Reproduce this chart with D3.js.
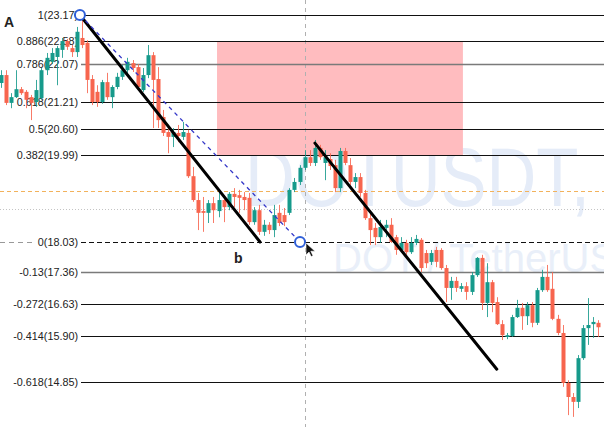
<!DOCTYPE html>
<html><head><meta charset="utf-8">
<script src="https://cdn.jsdelivr.net/npm/d3@7"></script>
<style>body{margin:0;background:#fff;overflow:hidden}svg{display:block}</style>
</head><body><svg id="c" width="604" height="427"></svg>
<script>
// candle index (bars)
const candleIndex = d3.range(119);
const opens = [21.63,21.81,21.18,21.31,21.49,21.43,21.31,21.20,21.29,21.92,22.11,22.22,22.38,22.58,22.42,22.33,22.65,22.54,21.72,21.43,
21.20,21.65,21.31,21.54,21.77,21.92,22.08,21.99,21.47,21.81,22.26,21.72,20.86,20.52,20.41,20.50,20.41,20.50,19.52,18.98,
18.73,18.69,18.91,18.73,18.98,18.82,19.12,19.09,19.05,19.03,18.48,18.75,18.26,18.42,18.30,18.69,18.64,18.69,19.21,19.39,
19.71,19.95,19.82,20.16,19.82,19.91,19.77,19.25,20.09,19.77,19.39,19.50,19.14,18.57,18.35,18.14,18.35,18.42,18.14,17.85,
18.01,17.80,18.01,18.08,17.78,17.58,17.85,17.85,17.44,16.99,17.15,16.97,17.03,16.90,17.28,17.67,16.65,17.12,16.67,16.17,
15.88,15.90,16.33,16.54,16.35,16.60,16.20,16.94,17.24,16.97,16.29,15.97,14.84,14.52,14.41,15.40,16.08,16.17,16.20];
const highs = [21.92,21.92,21.40,21.92,21.54,21.47,21.36,21.70,21.97,22.31,22.42,22.47,22.65,22.63,22.49,22.90,23.17,22.60,21.81,21.58,
21.70,21.86,21.58,21.86,22.04,22.20,22.15,22.06,21.97,22.49,22.33,21.99,21.02,20.68,20.61,20.68,20.75,20.57,19.73,19.14,
19.05,18.98,19.05,19.16,19.09,19.16,19.25,19.21,19.16,19.14,18.82,18.87,18.53,18.48,18.87,18.87,18.80,19.25,19.48,19.77,
20.11,20.11,20.34,20.23,20.11,20.04,19.89,20.16,20.16,19.93,19.59,19.59,19.21,18.75,18.46,18.53,18.53,18.57,18.19,18.14,
18.08,18.14,18.19,18.12,17.85,17.85,17.92,17.89,17.51,17.24,17.24,17.10,17.12,17.35,17.69,17.74,17.55,17.17,16.78,16.26,
15.97,16.38,16.72,16.65,16.67,16.67,16.99,17.40,17.51,17.35,16.38,16.15,14.90,14.61,15.47,16.15,16.76,16.33,16.26];
const lows = [21.52,21.13,21.06,21.29,21.36,21.06,20.79,21.09,21.25,21.81,22.06,21.58,22.20,22.38,22.22,22.22,22.42,21.40,21.13,21.09,
21.16,21.25,21.06,21.49,21.70,21.86,21.88,21.47,21.43,21.74,20.61,20.61,20.43,20.04,20.18,20.29,20.34,19.48,18.94,18.30,
18.26,18.46,18.46,18.59,18.48,18.75,18.82,18.69,18.75,18.42,18.42,18.19,18.17,18.21,18.14,18.39,18.39,18.64,19.16,19.32,
19.66,19.75,19.75,19.89,19.43,19.66,19.16,19.16,19.77,19.32,19.25,19.05,18.53,17.96,17.96,18.01,18.14,18.01,17.74,17.80,
17.74,17.76,17.96,17.35,17.44,17.51,17.46,17.40,16.67,16.72,16.90,16.90,16.72,16.83,17.24,16.49,16.33,16.44,16.15,15.81,
15.83,15.88,16.31,16.04,16.15,16.10,16.15,16.90,16.90,16.26,15.92,14.75,14.11,14.07,14.27,15.36,15.70,15.86,15.88];
const closes = [21.81,21.18,21.31,21.49,21.40,21.25,21.18,21.47,21.92,22.20,22.31,22.42,22.58,22.45,22.33,22.79,22.49,21.70,21.20,21.20,
21.65,21.31,21.54,21.77,21.92,22.11,21.97,21.54,21.81,22.26,21.70,20.79,20.50,20.41,20.52,20.43,20.52,19.52,18.98,18.69,
18.69,18.91,18.75,18.98,18.82,19.12,19.05,19.03,18.98,18.48,18.75,18.26,18.42,18.30,18.64,18.46,18.48,19.21,19.39,19.71,
19.95,19.82,20.16,19.95,19.95,19.75,19.25,20.09,19.82,19.39,19.50,19.14,18.57,18.30,18.14,18.37,18.42,18.03,17.85,18.01,
17.80,18.01,18.10,17.44,17.55,17.78,17.58,17.44,16.99,17.15,16.99,17.03,16.90,17.28,17.67,16.65,17.12,16.65,16.17,15.92,
15.92,16.33,16.54,16.35,16.60,16.20,16.94,17.24,16.94,16.29,15.97,14.84,14.52,14.41,15.40,16.08,16.15,16.22,16.10];

// Fibonacci retracement
const fibLevels = ["1","0.886","0.786","0.618","0.5","0.382","0","-0.13","-0.272","-0.414","-0.618"];
const fibPrices = [23.17,22.58,22.07,21.21,20.60,19.99,18.03,17.36,16.63,15.90,14.85];
const grayLevels = ["0.786","-0.13"];

// drawings (bar index, price)
const trend1 = [[15.6,23.17],[51.2,18.03]];
const trend2 = [[62.05,20.27],[98.0,15.15]];
const abLine = [[15.6,23.17],[59.1,18.03]];
const zoneBars = [42.7,91.3];
const zonePrices = [22.58,19.99];
const crossBar = 60.1;
const orangePrice = 19.18;
const dottedPrice = 18.78;
const pointLabels = [{t:"A",bar:1.6,price:22.89},{t:"b",bar:46.9,price:17.55}];
const watermark = ["DOTUSDT,","DOT / TetherUS"];

const W=604,H=427;
const svg=d3.select('#c');
const x=d3.scaleLinear().domain([0,118]).range([1,598]);
const y=d3.scaleLinear().domain([23.17,18.03]).range([15,242]);

// watermark
svg.append('text').attr('x',245).attr('y',206).text(watermark[0])
  .attr('font-family','Liberation Sans, Arial, sans-serif').attr('font-size',84)
  .attr('textLength',345).attr('lengthAdjust','spacingAndGlyphs')
  .attr('fill','#e5ecf8');
svg.append('text').attr('x',333).attr('y',272).text(watermark[1])
  .attr('font-family','Liberation Sans, Arial, sans-serif').attr('font-size',40)
  .attr('fill','#e9eff9');

// pink zone
svg.append('rect').attr('x',x(zoneBars[0])).attr('y',y(zonePrices[0]))
  .attr('width',x(zoneBars[1])-x(zoneBars[0])).attr('height',y(zonePrices[1])-y(zonePrices[0]))
  .attr('fill','#ffbcbf');

// vertical crosshair
svg.append('line').attr('x1',Math.round(x(crossBar))+0.5).attr('x2',Math.round(x(crossBar))+0.5)
  .attr('y1',0).attr('y2',H).attr('stroke','#b0b0b0').attr('stroke-dasharray','4,4');
// orange dashed
svg.append('line').attr('x1',0).attr('x2',W).attr('y1',Math.round(y(orangePrice))+0.5).attr('y2',Math.round(y(orangePrice))+0.5)
  .attr('stroke','#f2b25c').attr('stroke-dasharray','4,3');
// gray dotted
svg.append('line').attr('x1',0).attr('x2',W).attr('y1',Math.round(y(dottedPrice))+0.5).attr('y2',Math.round(y(dottedPrice))+0.5)
  .attr('stroke','#c4c4c4').attr('stroke-dasharray','1,2');

// fib levels
const fib=svg.append('g');
fibLevels.forEach((lv,i)=>{
  const yy=Math.round(y(fibPrices[i]))+0.5;
  const isZero = lv==="0";
  const gray = grayLevels.includes(lv);
  fib.append('line').attr('x1',81).attr('x2',W).attr('y1',yy).attr('y2',yy)
    .attr('stroke',gray?'#7a7a7a':'#111').attr('stroke-width',gray?1.3:1.1)
    .attr('stroke-dasharray',isZero?'5,3':null);
  if(isZero){
    fib.append('line').attr('x1',0).attr('x2',36).attr('y1',yy).attr('y2',yy)
      .attr('stroke','#999').attr('stroke-dasharray','5,4');
  }
  fib.append('text').attr('x',78).attr('y',yy+3.8).attr('text-anchor','end')
    .attr('font-family','Liberation Sans, Arial, sans-serif').attr('font-size',10.8)
    .attr('fill','#222').text(lv+'('+fibPrices[i].toFixed(2)+')');
});

// candles
const up='#169a8b', dn='#f7654e';
const cg=svg.append('g');
candleIndex.forEach(i=>{
  const o=opens[i],h=highs[i],l=lows[i],c=closes[i];
  const col=c>=o?up:dn;
  const cx=x(i);
  const wx=Math.round(cx)+0.5;
  cg.append('line').attr('x1',wx).attr('x2',wx).attr('y1',y(h)).attr('y2',y(l))
    .attr('stroke',col).attr('stroke-width',1).attr('opacity',0.85);
  const top=y(Math.max(o,c)), bot=y(Math.min(o,c));
  cg.append('rect').attr('x',Math.round(cx)-1.5).attr('width',4).attr('y',top)
    .attr('height',Math.max(1,bot-top)).attr('fill',col);
});

// trend lines
const lineGen=d3.line().x(d=>x(d[0])).y(d=>y(d[1]));
[trend1,trend2].forEach(t=>{
  svg.append('path').attr('d',lineGen(t)).attr('stroke','#000').attr('stroke-width',3)
    .attr('fill','none').attr('stroke-linecap','round');
});
// A-b dashed line
svg.append('path').attr('d',lineGen(abLine)).attr('stroke','#3437c8').attr('stroke-width',1.3)
  .attr('stroke-dasharray','4,4').attr('fill','none');
abLine.forEach(p=>{
  svg.append('circle').attr('cx',x(p[0])).attr('cy',y(p[1])).attr('r',5)
    .attr('fill','#fff').attr('stroke','#2f5fd8').attr('stroke-width',2);
});
// cursor
const cx0=x(abLine[1][0])+6, cy0=y(abLine[1][1])+1;
svg.append('path').attr('d',`M${cx0},${cy0} l0,12 l3,-3 l2.2,4.6 l1.8,-0.9 l-2.2,-4.5 l4.2,0 z`)
  .attr('fill','#111').attr('stroke','#fff').attr('stroke-width',0.6);

// point labels
pointLabels.forEach(p=>{
  svg.append('text').attr('x',x(p.bar)).attr('y',y(p.price)).text(p.t)
    .attr('font-family','Liberation Sans, Arial, sans-serif').attr('font-weight','bold')
    .attr('font-size',14).attr('fill','#222').attr('text-anchor','middle');
});
</script></body></html>
